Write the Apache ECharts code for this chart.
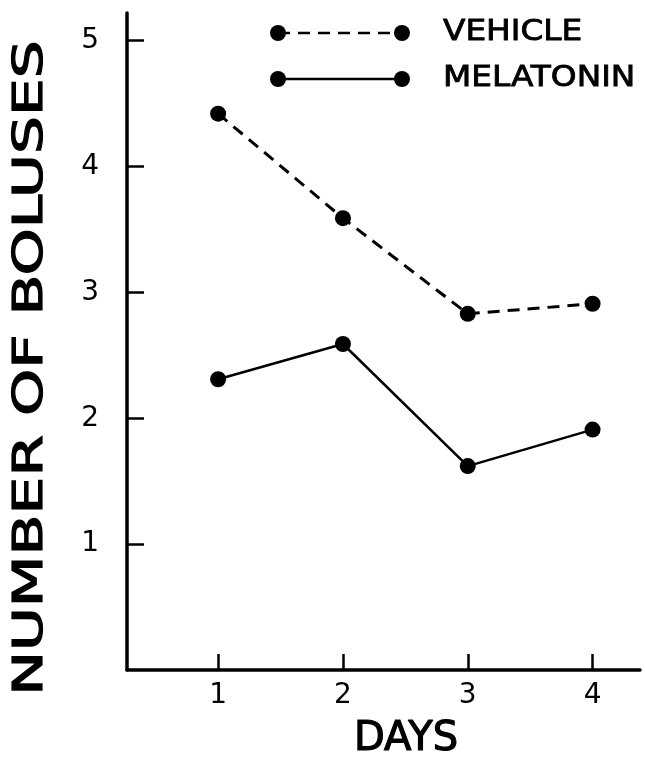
<!DOCTYPE html>
<html><head><meta charset="utf-8">
<script src="https://cdn.jsdelivr.net/npm/echarts@6/dist/echarts.min.js"></script>
<style>html,body{margin:0;padding:0;background:#fff}#c{width:645px;height:772px}</style>
</head><body><div id="c"></div>
<script>
// ---- data ----
const days = [1, 2, 3, 4];
const vehicle = [4.42, 3.59, 2.83, 2.91];
const melatonin = [2.31, 2.59, 1.62, 1.91];
const xTicks = [1, 2, 3, 4];
const yTicks = [1, 2, 3, 4, 5];
const seriesNames = ['VEHICLE', 'MELATONIN'];
const xTitle = 'DAYS';
const yTitle = 'NUMBER OF BOLUSES';

const FONT = 'DejaVu Sans';
const dash = [12, 8];

function axisCommon(ticks, tickLen, margin) {
  return {
    axisLine: { onZero: false, lineStyle: { color: '#000', width: 3.5 } },
    axisTick: { inside: true, length: tickLen, customValues: ticks, lineStyle: { color: '#000', width: 2.5 } },
    axisLabel: { customValues: ticks, color: '#000', fontSize: 28, fontFamily: FONT, margin: margin },
    splitLine: { show: false }
  };
}

function legendRow(y, name, dashed) {
  return {
    type: 'group',
    children: [
      { type: 'line', shape: { x1: 278, y1: y, x2: 402, y2: y },
        style: { stroke: '#000', lineWidth: 2.5, lineDash: dashed ? dash : null } },
      { type: 'circle', shape: { cx: 278, cy: y, r: 8 }, style: { fill: '#000' } },
      { type: 'circle', shape: { cx: 402, cy: y, r: 8 }, style: { fill: '#000' } },
      { type: 'text', x: 443, y: y, scaleX: 1.17,
        style: { text: name, fill: '#000', font: '28px "DejaVu Sans"', verticalAlign: 'middle',
                 stroke: '#000', lineWidth: 0.8 } }
    ]
  };
}

const chart = echarts.init(document.getElementById('c'), null, { renderer: 'canvas' });
chart.setOption({
  backgroundColor: '#fff',
  animation: false,
  grid: { left: 127, right: 5, top: 13, bottom: 102 },
  xAxis: Object.assign({ type: 'value', min: 0.27, max: 4.38 }, axisCommon(xTicks, 16, 12)),
  yAxis: Object.assign({ type: 'value', min: 0, max: 5.22 }, axisCommon(yTicks, 17, 28)),
  series: [
    { name: seriesNames[0], type: 'line', data: days.map((d, i) => [d, vehicle[i]]),
      symbol: 'circle', symbolSize: 16, itemStyle: { color: '#000' },
      lineStyle: { color: '#000', width: 3, type: dash } },
    { name: seriesNames[1], type: 'line', data: days.map((d, i) => [d, melatonin[i]]),
      symbol: 'circle', symbolSize: 16, itemStyle: { color: '#000' },
      lineStyle: { color: '#000', width: 2.5, type: 'solid' } }
  ],
  graphic: [
    legendRow(33, seriesNames[0], true),
    legendRow(79, seriesNames[1], false),
    { type: 'text', x: 31, y: 368, rotation: Math.PI / 2, scaleX: 1.46,
      style: { text: yTitle, fill: '#000', font: '41px "DejaVu Sans"', align: 'center', verticalAlign: 'middle',
               stroke: '#000', lineWidth: 1.2 } },
    { type: 'text', x: 406, y: 740,
      style: { text: xTitle, fill: '#000', font: '40px "DejaVu Sans"', align: 'center', verticalAlign: 'middle',
               stroke: '#000', lineWidth: 1.2 } }
  ]
});
</script>
</body></html>
